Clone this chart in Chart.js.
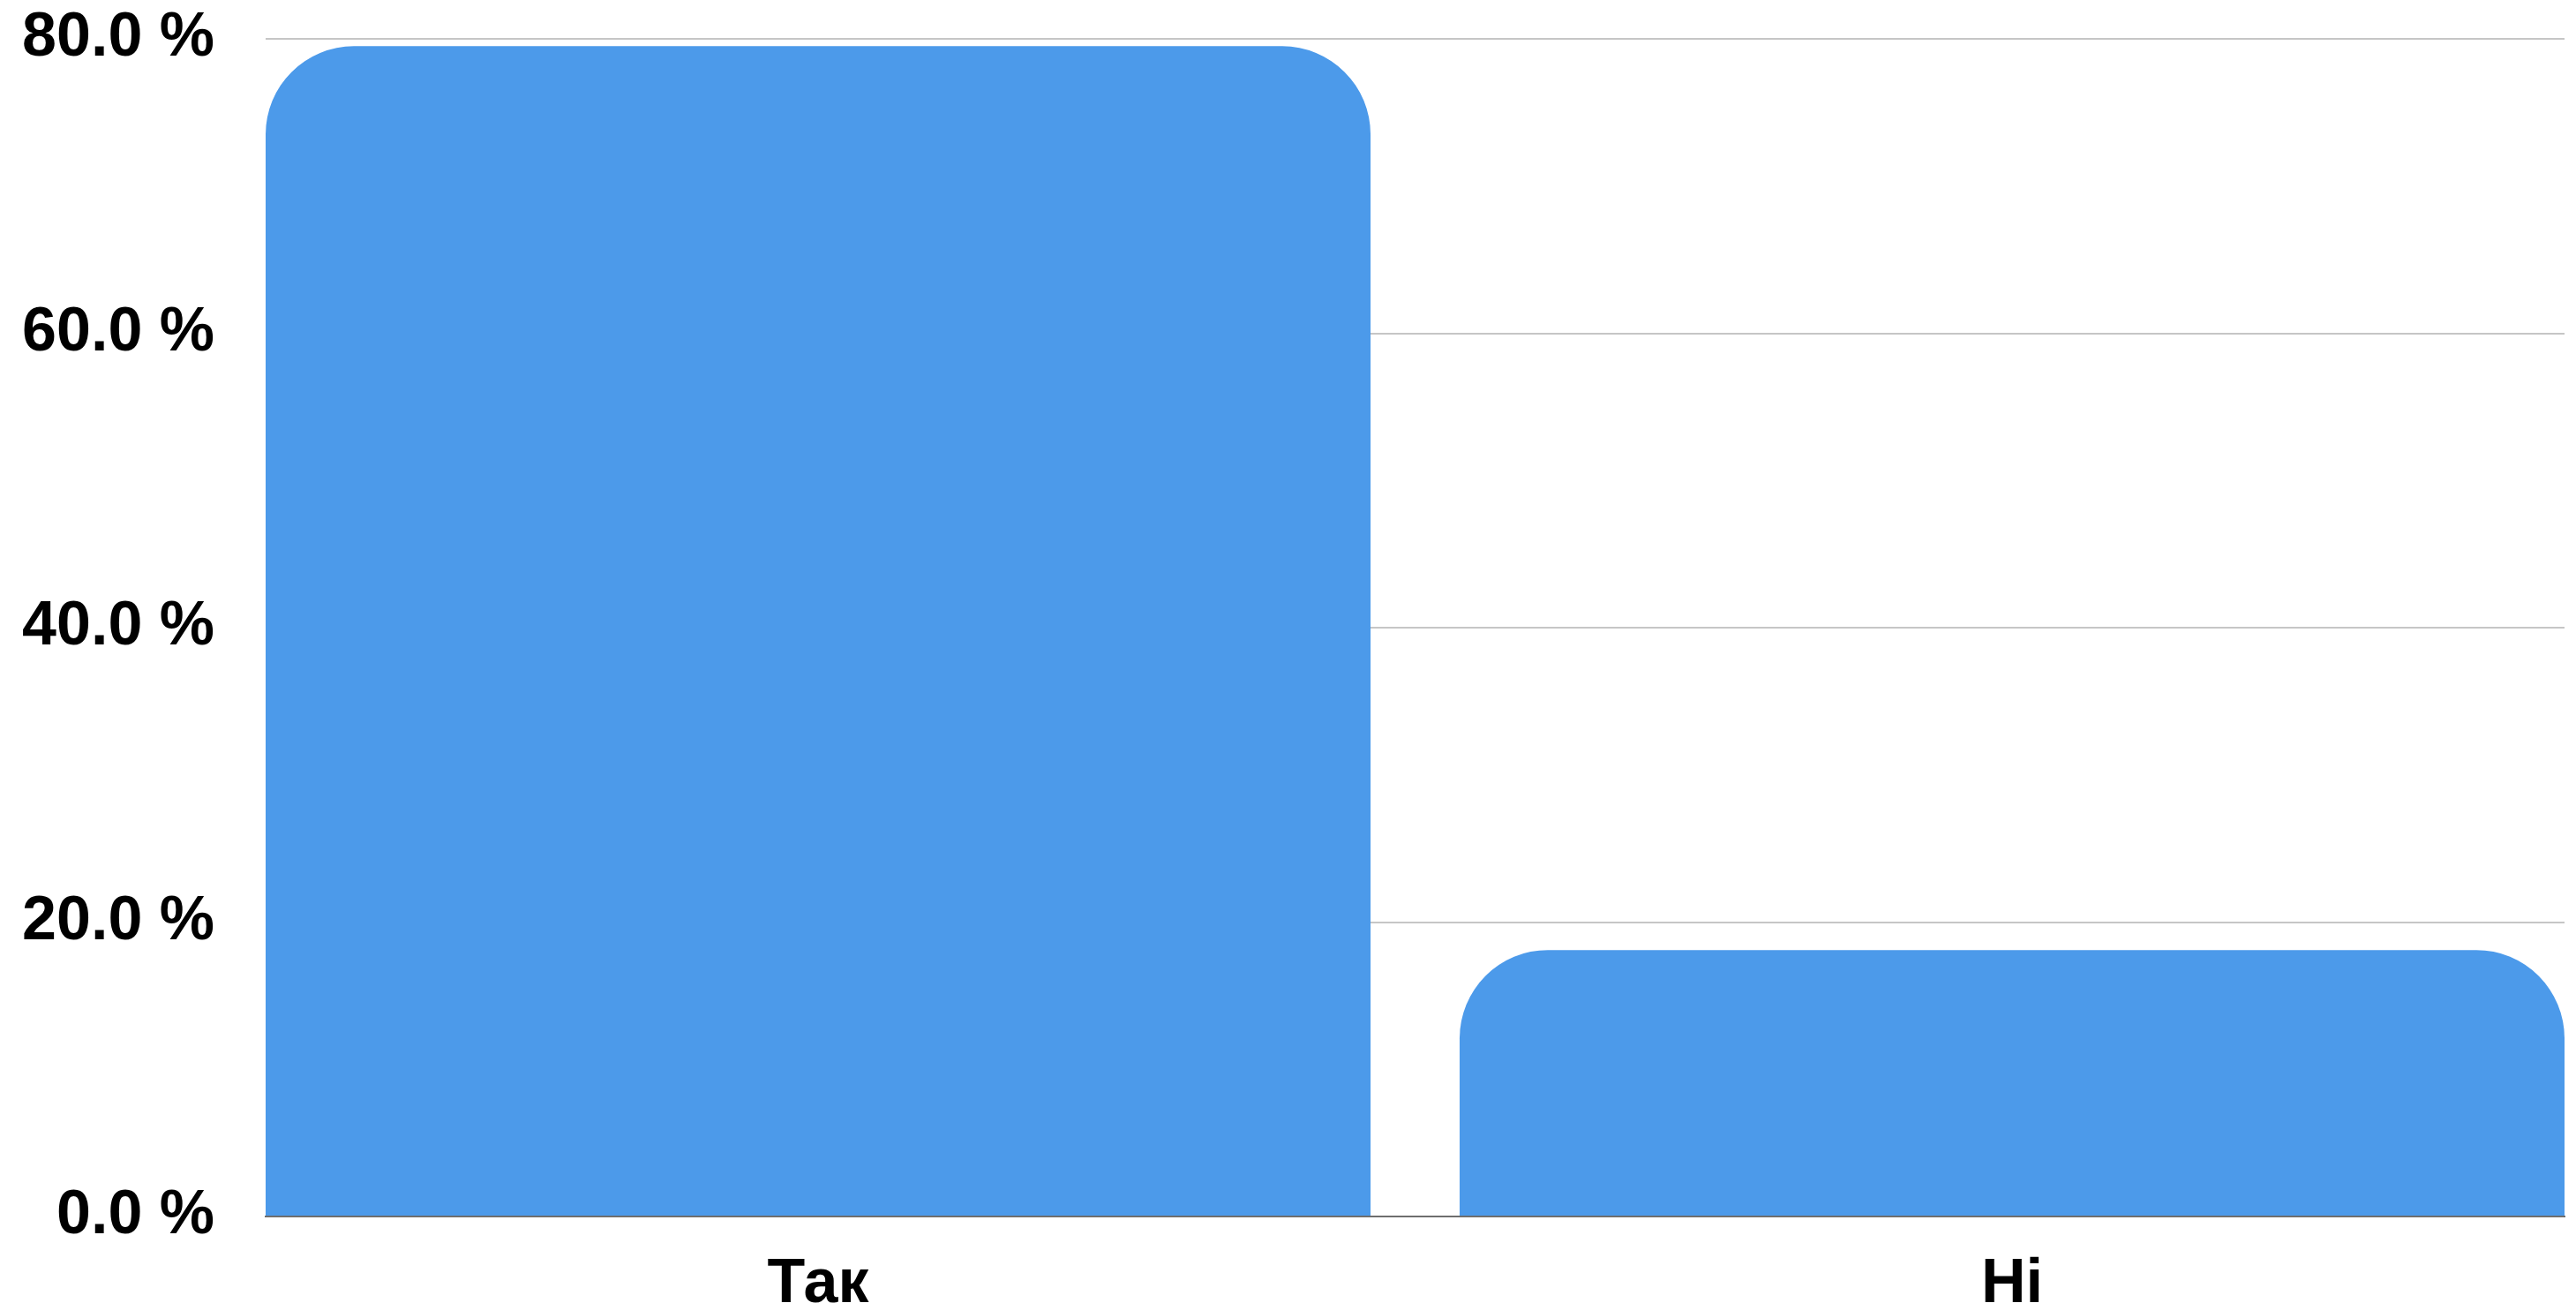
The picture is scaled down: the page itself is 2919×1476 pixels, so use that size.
<!DOCTYPE html>
<html>
<head>
<meta charset="utf-8">
<script src="https://cdn.jsdelivr.net/npm/chart.js@4/dist/chart.umd.min.js"></script>
<style>
  html, body { margin: 0; padding: 0; background: #fff; }
  #wrap { width: 2919px; height: 1476px; position: relative; }
</style>
</head>
<body>
<div id="wrap"><canvas id="chart"></canvas></div>
<script>
// --- data ---
const categories = ['Так', 'Ні'];
const shares = [79.5, 18.1];
const yTickValues = [0, 20, 40, 60, 80];

const FONT = "'Liberation Sans', Arial, sans-serif";

document.addEventListener('DOMContentLoaded', () => {
    Chart.defaults.font.family = FONT;
    Chart.defaults.color = '#000';

    new Chart(document.getElementById('chart'), {
        type: 'bar',
        data: {
            datasets: [{
                data: shares.map((v, i) => ({ x: i, y: v })),
                backgroundColor: '#4c9aea',
                borderWidth: 0,
                borderSkipped: false,
                borderRadius: { topLeft: 100, topRight: 100, bottomLeft: 0, bottomRight: 0 },
                categoryPercentage: 1,
                barPercentage: 0.9254
            }]
        },
        options: {
            responsive: true,
            maintainAspectRatio: false,
            animation: false,
            layout: { padding: { left: 0, right: 13, top: 0, bottom: 0 } },
            plugins: { legend: { display: false }, tooltip: { enabled: false } },
            scales: {
                x: {
                    type: 'linear',
                    offset: false,
                    min: -0.4627,
                    max: 1.4627,
                    grid: { display: false, offset: false },
                    border: { display: true, color: '#6e6e6e', width: 2 },
                    ticks: {
                        stepSize: 1,
                        includeBounds: false,
                        autoSkip: false,
                        maxRotation: 0,
                        padding: 28,
                        font: { size: 70, weight: 'bold' },
                        callback: v => categories[v] ?? ''
                    },
                    afterFit: s => { s.height = 98; }
                },
                y: {
                    min: yTickValues[0],
                    max: yTickValues[yTickValues.length - 1],
                    grid: { color: '#c6c6c6', lineWidth: 2, drawTicks: false },
                    border: { display: false },
                    ticks: {
                        stepSize: 20,
                        padding: 58,
                        font: { size: 70, weight: 'bold' },
                        callback: v => v.toFixed(1) + ' %'
                    },
                    // tick padding is meant horizontally only; keep the top label half-height
                    afterFit: s => { s.width = 301; s.paddingTop = 44; s.paddingBottom = 0; }
                }
            }
        }
    });
});
</script>
</body>
</html>
